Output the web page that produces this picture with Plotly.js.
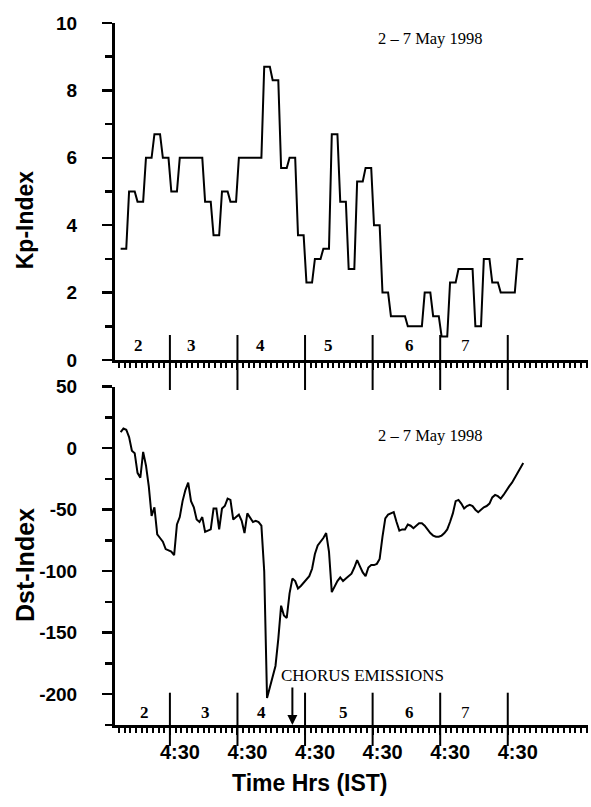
<!DOCTYPE html>
<html>
<head>
<meta charset="utf-8">
<script src="https://cdn.plot.ly/plotly-3.0.1.min.js"></script>
<style>html,body{margin:0;padding:0;background:#fff;}#chart{width:591px;height:807px;}</style>
</head>
<body>
<div id="chart"></div>
<script>
// ---- Data ----
// Kp index, 3-hourly values, 2-7 May 1998 (8 per day)
var kpValues = [
  3.3, 5.0, 4.7, 6.0, 6.7, 6.0, 5.0, 6.0,
  6.0, 6.0, 4.7, 3.7, 5.0, 4.7, 6.0, 6.0,
  6.0, 8.7, 8.3, 5.7, 6.0, 3.7, 2.3, 3.0,
  3.3, 6.7, 4.7, 2.7, 5.3, 5.7, 4.0, 2.0,
  1.3, 1.3, 1.0, 1.0, 2.0, 1.3, 0.7, 2.3,
  2.7, 2.7, 1.0, 3.0, 2.3, 2.0, 2.0, 3.0
];
// Dst index, hourly values (nT), 2-7 May 1998
var dstValues = [
  13, 16, 15, 9, -2, -4, -20, -24, -3, -14,
  -31, -55, -48, -70, -73, -76, -82, -83, -84, -87,
  -62, -56, -43, -34, -28, -43, -48, -58, -60, -56,
  -68, -67, -66, -49, -49, -66, -49, -47, -41, -42,
  -58, -56, -54, -59, -69, -53, -57, -60, -59, -60,
  -63, -100, -203, -195, -186, -177, -155, -128, -136, -138,
  -118, -106, -108, -114, -112, -109, -107, -104, -98, -86,
  -79, -76, -73, -69, -84, -117, -112, -108, -105, -108,
  -106, -104, -102, -97, -91, -96, -101, -104, -97, -95,
  -95, -94, -90, -72, -57, -54, -53, -52, -60, -67,
  -66, -66, -62, -63, -65, -63, -61, -61, -63, -66,
  -69, -71, -72, -72, -71, -69, -66, -60, -53, -43,
  -42, -45, -49, -47, -46, -47, -50, -52, -50, -48,
  -47, -45, -40, -38, -39, -41, -38, -34, -31, -28,
  -24, -20, -16, -12
];
// Axis tick values and labels
var kpTickVals = [0, 2, 4, 6, 8, 10];
var kpTickLabels = ['0', '2', '4', '6', '8', '10'];
var dstTickVals = [-200, -150, -100, -50, 0, 50];
var dstTickLabels = ['-200', '-150', '-100', '-50', '0', '50'];
// Day separators (hours from start of record) at 4:30 IST
var majorHours = [17.5, 41.5, 65.5, 89.5, 113.5, 137.5];
var majorLabels = ['4:30', '4:30', '4:30', '4:30', '4:30', '4:30'];
var dayLabels = ['2', '3', '4', '5', '6', '7'];
var dayLabelHoursTop = [6.5, 25, 49.5, 74, 102.5, 122.5];
var dayLabelHoursBottom = [8.5, 30, 50, 79, 102.5, 122.5];
var dateText = '2 \u2013 7 May 1998';
var chorusText = 'CHORUS EMISSIONS';
var chorusHour = 61;

// ---- Build traces ----
var kpX = [], kpY = [];
for (var k = 0; k < kpValues.length; k++) {
  for (var j = 0; j < 3; j++) { kpX.push(3 * k + j); kpY.push(kpValues[k]); }
}
var dstX = dstValues.map(function (v, i) { return i; });

var traces = [
  {x: kpX, y: kpY, xaxis: 'x', yaxis: 'y', type: 'scatter', mode: 'lines',
   line: {color: '#000', width: 2}, hoverinfo: 'skip', showlegend: false},
  {x: dstX, y: dstValues, xaxis: 'x2', yaxis: 'y2', type: 'scatter', mode: 'lines',
   line: {color: '#000', width: 2}, hoverinfo: 'skip', showlegend: false}
];

var SANS = 'Liberation Sans, Arial, sans-serif';
var SERIF = 'Liberation Serif, Times New Roman, serif';
var XR = [-2, 166];
var topDom = [0.5199, 1];
var botDom = [0, 0.4819];

function xAxis(anchor, labels) {
  return {
    anchor: anchor, domain: [0, 1], range: XR, showgrid: false, zeroline: false,
    showline: true, linewidth: 3, linecolor: '#000',
    tickmode: 'array', tickvals: majorHours, ticktext: majorLabels,
    ticks: 'outside', ticklen: 7, tickwidth: 2, tickcolor: '#000',
    showticklabels: labels, ticklabelshift: 10,
    tickfont: {family: SANS, size: 20, color: '#000', weight: 'bold'},
    minor: {ticks: 'outside', tickmode: 'linear', tick0: majorHours[0], dtick: 2,
            ticklen: 5, tickwidth: 2, tickcolor: '#000', showgrid: false}
  };
}
function yAxis(anchor, dom, range, vals, labels, mdtick) {
  return {
    anchor: anchor, domain: dom, range: range, showgrid: false, zeroline: false,
    showline: true, linewidth: 3, linecolor: '#000',
    tickmode: 'array', tickvals: vals, ticktext: labels,
    ticks: 'outside', ticklen: 10, tickwidth: 2.5, tickcolor: '#000',
    ticklabelstandoff: 21,
    tickfont: {family: SANS, size: 19, color: '#000', weight: 'bold'},
    minor: {ticks: 'outside', tickmode: 'linear', tick0: 0, dtick: mdtick,
            ticklen: 7, tickwidth: 2.5, tickcolor: '#000', showgrid: false}
  };
}

var shapes = [];
majorHours.forEach(function (h) {
  shapes.push({type: 'line', xref: 'x', yref: 'paper', x0: h, x1: h, y0: 0.4772, y1: 0.5556,
               line: {color: '#000', width: 2}});
  shapes.push({type: 'line', xref: 'x', yref: 'paper', x0: h, x1: h, y0: -0.0299, y1: 0.046,
               line: {color: '#000', width: 2}});
});

var annotations = [];
dayLabels.forEach(function (d, i) {
  var w = (i === dayLabels.length - 1) ? 'normal' : 'bold';
  annotations.push({text: d, xref: 'x', yref: 'paper', x: dayLabelHoursTop[i], y: 0.540,
    showarrow: false, xanchor: 'center', yanchor: 'middle',
    font: {family: SERIF, size: 17, color: '#000', weight: w}});
  annotations.push({text: d, xref: 'x2', yref: 'paper', x: dayLabelHoursBottom[i], y: 0.0171,
    showarrow: false, xanchor: 'center', yanchor: 'middle',
    font: {family: SERIF, size: 17, color: '#000', weight: w}});
});
annotations.push({text: dateText, xref: 'x', yref: 'paper', x: 110, y: 0.9786, showarrow: false,
  xanchor: 'center', yanchor: 'middle', font: {family: SERIF, size: 16.5, color: '#000'}});
annotations.push({text: dateText, xref: 'x2', yref: 'paper', x: 110, y: 0.4131, showarrow: false,
  xanchor: 'center', yanchor: 'middle', font: {family: SERIF, size: 16.5, color: '#000'}});
annotations.push({text: chorusText, xref: 'x2', yref: 'paper', x: 86, y: 0.0712, showarrow: false,
  xanchor: 'center', yanchor: 'middle', font: {family: SERIF, size: 17, color: '#000'}});
annotations.push({text: '', xref: 'x2', yref: 'paper', x: chorusHour, y: 0, showarrow: true,
  ax: 0, ay: -39, axref: 'pixel', ayref: 'pixel', arrowhead: 2, arrowsize: 1, arrowwidth: 2,
  arrowcolor: '#000'});
annotations.push({text: 'Kp-Index', xref: 'paper', yref: 'paper', x: 0, xshift: -90, y: 0.719,
  textangle: -90, showarrow: false, xanchor: 'center', yanchor: 'middle',
  font: {family: SANS, size: 23, color: '#000', weight: 'bold'}});
annotations.push({text: 'Dst-Index', xref: 'paper', yref: 'paper', x: 0, xshift: -90, y: 0.228,
  textangle: -90, showarrow: false, xanchor: 'center', yanchor: 'middle',
  font: {family: SANS, size: 25, color: '#000', weight: 'bold'}});
annotations.push({text: 'Time Hrs (IST)', xref: 'paper', yref: 'paper', x: 0.412, y: -0.0826,
  showarrow: false, xanchor: 'center', yanchor: 'middle',
  font: {family: SANS, size: 23, color: '#000', weight: 'bold'}});

var layout = {
  width: 591, height: 807,
  margin: {l: 115, r: 3, t: 23, b: 82},
  paper_bgcolor: '#fff', plot_bgcolor: '#fff',
  showlegend: false,
  xaxis: xAxis('y', false),
  yaxis: yAxis('x', topDom, [0, 10], kpTickVals, kpTickLabels, 1),
  xaxis2: xAxis('y2', true),
  yaxis2: yAxis('x2', botDom, [-225, 50], dstTickVals, dstTickLabels, 25),
  shapes: shapes,
  annotations: annotations
};

Plotly.newPlot('chart', traces, layout, {staticPlot: true, displayModeBar: false});
</script>
</body>
</html>
